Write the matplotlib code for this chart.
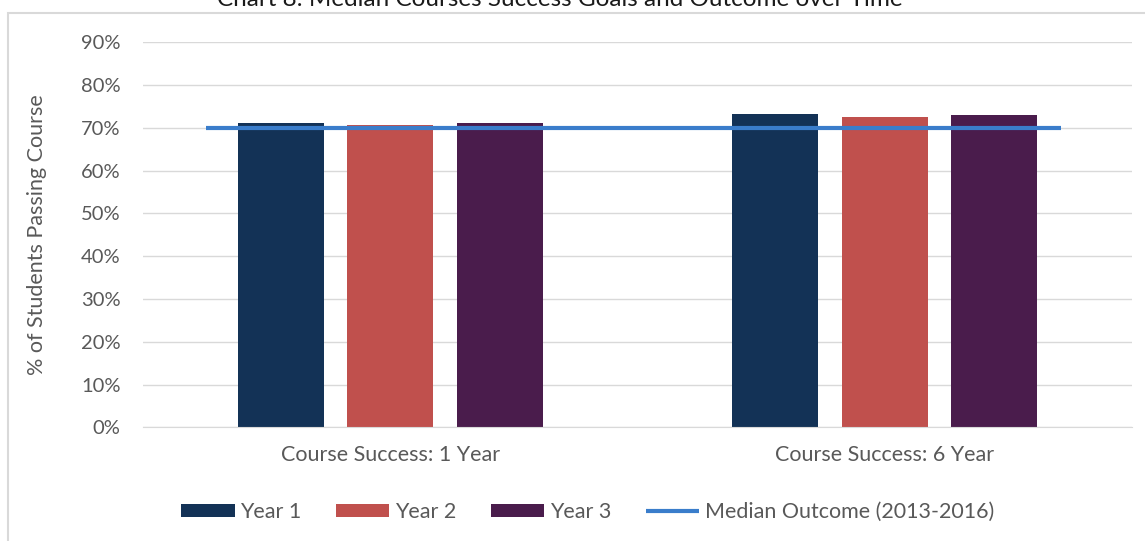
import matplotlib.pyplot as plt
from matplotlib.patches import Rectangle
import numpy as np

plt.rcParams['font.family'] = ['Lato', 'DejaVu Sans']

categories = ["Course Success: 1 Year", "Course Success: 6 Year"]
series = ["Year 1", "Year 2", "Year 3"]
year1 = [0.711, 0.732]
year2 = [0.707, 0.725]
year3 = [0.711, 0.730]
median_outcome = [0.700, 0.700]
colors = ["#133256", "#C0504D", "#4A1C4C"]
line_color = "#3A7DCB"
text_color = "#595959"

fig = plt.figure(figsize=(11.45, 5.41), dpi=100)
ax = fig.add_axes([0.1252, 0.2102, 0.8632, 0.7116])

x = np.arange(len(categories))
width = 0.174
step = 0.221
handles = []
for i, (vals, c, name) in enumerate(zip([year1, year2, year3], colors, series)):
    h = ax.bar(x + (i - 1) * step, vals, width, color=c, label=name, zorder=2)
    handles.append(h)

# median line stretches beyond the bar groups like in the excel chart
x_line = [x[0] - 0.373, x[-1] + 0.357]
ln, = ax.plot(x_line, median_outcome, color=line_color, lw=3, zorder=3,
              label="Median Outcome (2013-2016)", solid_capstyle='butt')
handles.append(ln)

ax.set_xlim(-0.5, 1.5)
ax.set_ylim(0, 0.9)
ax.set_yticks(np.arange(0, 0.91, 0.1))
ax.set_yticklabels([f"{int(round(v * 100))}%" for v in np.arange(0, 0.91, 0.1)])
ax.set_xticks(x)
ax.set_xticklabels(categories)
ax.tick_params(axis='both', length=0, colors=text_color)
ax.tick_params(axis='x', pad=13, labelsize=15.5)
ax.tick_params(axis='y', pad=16.5, labelsize=14.5)
ax.grid(axis='y', color="#D9D9D9", lw=1, zorder=0)
for s in ['top', 'right', 'left']:
    ax.spines[s].set_visible(False)
ax.spines['bottom'].set_color("#D9D9D9")
ax.set_ylabel("% of Students Passing Course", color=text_color, fontsize=15.5, labelpad=24)

fig.legend(handles=handles, loc='center', bbox_to_anchor=(0.513, 0.053), ncol=4,
           frameon=False, fontsize=15.5, labelcolor=text_color, handlelength=2.5,
           handleheight=0.56, handletextpad=0.25, columnspacing=1.6)

# chart border and clipped title
fig.patches.append(Rectangle((8 / 1145, -0.1), 1.2, 1 - 13 / 541 + 0.1,
                             transform=fig.transFigure, fill=False,
                             edgecolor="#D9D9D9", lw=1.5))
fig.text(560 / 1145, 1 - 6 / 541, "Chart 8: Median Courses Success Goals and Outcome over Time",
         ha='center', va='baseline', fontsize=17.5, color="#1a1a1a")

fig.savefig("out.png", dpi=100)
